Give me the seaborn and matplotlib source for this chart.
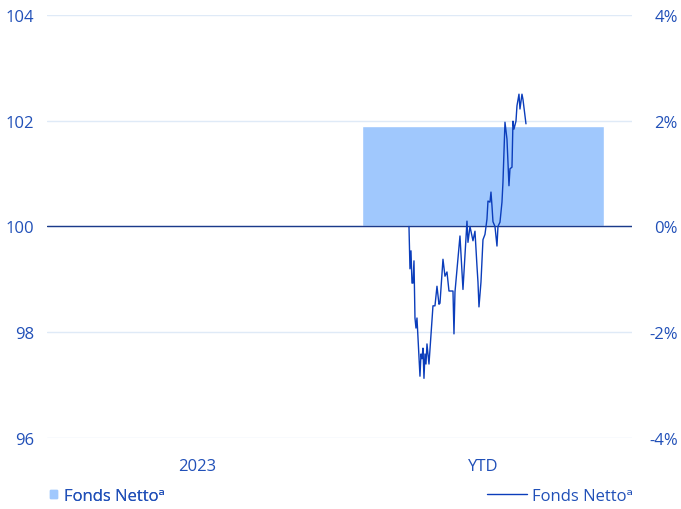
import matplotlib
matplotlib.use("Agg")
import matplotlib.pyplot as plt
from matplotlib.patches import Patch
from matplotlib.lines import Line2D
import seaborn as sns

# Calendar-year bars (right axis, %)
periods = ["2023", "YTD"]
returns = [0.0, 1.9]

# Indexed fund value for the YTD line (left axis, start = 100)
days = [0, 1, 2, 3, 4, 5, 6, 7, 8, 11, 12, 13, 14, 15, 16, 17, 18, 20, 24, 26,
        28, 30, 31, 34, 36, 38, 40, 44, 45, 46, 51, 54, 58, 59, 61, 64, 66, 68,
        69, 70, 72, 74, 76, 78, 79, 81, 82, 83, 84, 86, 88, 89, 91, 93, 94, 96,
        98, 100, 101, 103, 104, 105, 107, 108, 110, 111, 113, 114, 117]
index_values = [100.0, 99.2, 99.54, 98.93, 98.93, 99.35, 98.27, 98.08, 98.27,
                97.17, 97.59, 97.5, 97.7, 97.13, 97.59, 97.4, 97.78, 97.4, 98.5,
                98.5, 98.87, 98.53, 98.55, 99.38, 99.06, 99.14, 98.78, 98.78,
                97.97, 98.76, 99.82, 98.81, 100.1, 99.7, 100.0, 99.73, 99.91,
                99.25, 98.95, 98.48, 98.95, 99.75, 99.85, 100.14, 100.48, 100.46,
                100.65, 100.39, 100.09, 100.0, 99.63, 100.0, 100.08, 100.46,
                100.84, 101.97, 101.65, 100.77, 101.09, 101.12, 101.99, 101.84,
                101.99, 102.28, 102.5, 102.22, 102.5, 102.4, 101.94]

left_ticks = [96, 98, 100, 102, 104]
right_ticks = [-4, -2, 0, 2, 4]
legend_label = "Fonds Netto\u1d43"

text_color = "#2150b8"
bar_color = "#a0c8fd"
line_color = "#0b3dbb"
grid_color = "#dfeaf7"
zero_color = "#1b3a8a"

sns.set_style("white")
plt.rcParams["font.family"] = ["Open Sans", "DejaVu Sans"]
plt.rcParams["font.size"] = 12

fig = plt.figure(figsize=(6.81, 5.10), dpi=100)
rect = [0.069, 0.139, 0.859, 0.830]

# bars on the percent scale
ax = fig.add_axes(rect)
sns.barplot(x=periods, y=returns, ax=ax, color=bar_color, saturation=1,
            width=0.846, zorder=2)
ax.set_xlim(-0.5245, 1.521)
ax.set_ylim(-4, 4)
ax.set_yticks(right_ticks)
ax.set_yticklabels([f"{t}%" for t in right_ticks])
ax.yaxis.tick_right()
ax.tick_params(axis="y", length=0, pad=33, labelcolor=text_color)
for lbl in ax.get_yticklabels():
    lbl.set_horizontalalignment("right")
ax.tick_params(axis="x", length=0, pad=14, labelcolor=text_color)
ax.grid(axis="y", color=grid_color, lw=1, zorder=0)
ax.set_xlabel("")
ax.set_ylabel("")
for s in ax.spines.values():
    s.set_visible(False)

# index line on its own day axis
ax_line = fig.add_axes(rect)
ax_line.patch.set_visible(False)
ax_line.axhline(100, color=zero_color, lw=1, zorder=3)
sns.lineplot(x=days, y=index_values, ax=ax_line, color=line_color, lw=1,
             zorder=4)
ax_line.set_xlim(-362, 223)
ax_line.set_ylim(96, 104)
ax_line.set_yticks(left_ticks)
ax_line.set_xticks([])
ax_line.tick_params(axis="y", length=0, pad=9, labelcolor=text_color)
ax_line.set_xlabel("")
ax_line.set_ylabel("")
for s in ax_line.spines.values():
    s.set_visible(False)

leg1 = fig.legend(handles=[Patch(color=bar_color, label=legend_label)],
                  loc="lower left", bbox_to_anchor=(0.052, -0.02), frameon=False,
                  handlelength=0.4, handleheight=0.4, handletextpad=0.4,
                  labelcolor=text_color, fontsize=12)
fig.legend(handles=[Line2D([], [], color=line_color, lw=1, label=legend_label)],
           loc="lower right", bbox_to_anchor=(0.952, -0.02), frameon=False,
           handlelength=2.4, handletextpad=0.3, labelcolor=text_color,
           fontsize=12)
fig.add_artist(leg1)

fig.savefig("out.png", dpi=100)
